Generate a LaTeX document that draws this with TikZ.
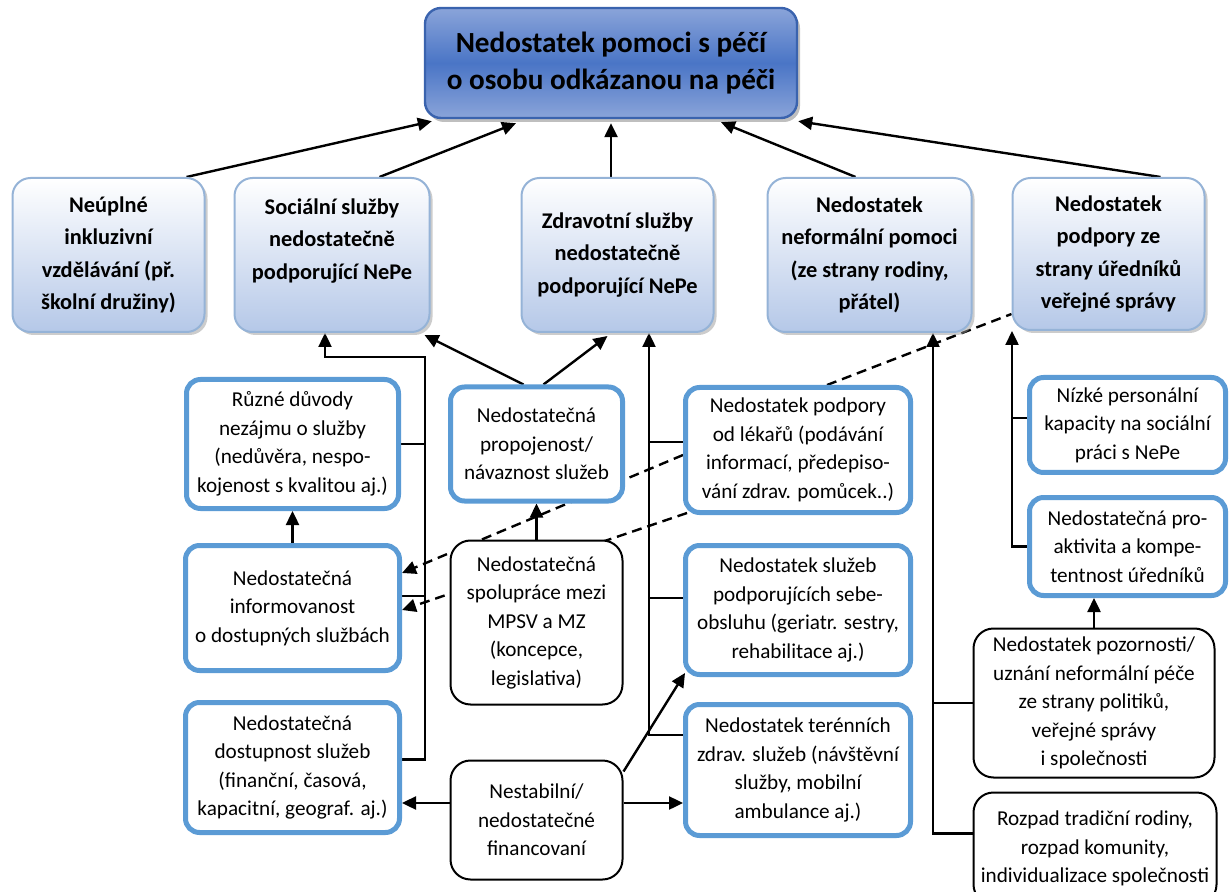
\documentclass[tikz,border=0pt]{standalone}
\usepackage{fontspec}
\setmainfont{Carlito}
\usetikzlibrary{calc, positioning, arrows.meta, shadows, backgrounds}

\definecolor{mainline}{HTML}{3A63AE}
\definecolor{mainedge}{HTML}{8AA4D9}
\definecolor{mainmid}{HTML}{4A75C6}
\definecolor{causeline}{HTML}{95B3D7}
\definecolor{causebot}{HTML}{B5C8E8}
\definecolor{boxblue}{HTML}{5B9BD5}

\newcommand\txttop{\fontsize{14.6}{18.5}\selectfont\bfseries}
\newcommand\txtcause{\fontsize{11.2}{16.25}\selectfont\bfseries}
\newcommand\txtbody{\fontsize{10.6}{14.25}\selectfont}

\tikzset{
    main/.style={rectangle, rounded corners=8pt, draw=mainline, line width=1.2pt,
        top color=mainedge, bottom color=mainedge, middle color=mainmid,
        drop shadow={shadow xshift=1.5pt, shadow yshift=-2pt, fill=black!50},
        align=center, font=\txttop, inner sep=1pt},
    cause/.style={rectangle, rounded corners=9pt, draw=causeline, line width=1pt,
        top color=white, bottom color=causebot,
        drop shadow={shadow xshift=1.5pt, shadow yshift=-1.5pt, fill=black!40},
        align=center, font=\txtcause, inner sep=1pt,
        minimum height=77pt},
    bluebox/.style={rectangle, rounded corners=7pt, draw=boxblue, line width=2.5pt,
        fill=white, align=center, font=\txtbody, inner sep=1pt},
    blackbox/.style={rectangle, rounded corners=10pt, draw, line width=1pt,
        fill=white, align=center, font=\txtbody, inner sep=1pt},
    link/.style={line width=1.1pt},
    arrow/.style={->, line width=1.2pt},
    dashline/.style={line width=1.2pt, dash pattern=on 5pt off 3pt},
    >={Triangle[length=7pt, width=6.5pt]}
}

\begin{document}
\begin{tikzpicture}[x=0.5pt, y=-0.5pt]
    \useasboundingbox (0,0) rectangle (1230,892);

    % main problem
    \node[main, minimum width=186pt, minimum height=55pt] (Top) at (611,63)
        {Nedostatek pomoci s péčí\\o osobu odkázanou na péči};

    % direct causes
    \node[cause, minimum width=96pt] (B1) at (108.5,255)
        {Neúplné\\inkluzivní\\vzdělávání (př.\\školní družiny)};
    \node[cause, minimum width=97.5pt] (B2) at (332,255)
        {Sociální služby\\nedostatečně\\podporující NePe\\\mbox{}};
    \node[cause, minimum width=96pt] (B3) at (617.5,255)
        {Zdravotní služby\\nedostatečně\\podporující NePe};
    \node[cause, minimum width=102pt] (B4) at (869.5,255)
        {Nedostatek\\neformální pomoci\\(ze strany rodiny,\\přátel)};
    \node[cause, minimum width=96pt, minimum height=76pt] (B5) at (1108.5,254)
        {Nedostatek\\podpory ze\\strany úředníků\\veřejné správy};

    % deeper causes
    \node[bluebox, minimum width=106pt, minimum height=64.5pt] (R1) at (292.5,444)
        {Různé důvody\\nezájmu o služby\\(nedůvěra, nespo-\\kojenost s kvalitou aj.)};
    \node[bluebox, minimum width=86pt, minimum height=57pt] (P) at (536.5,444)
        {Nedostatečná\\propojenost/\\návaznost služeb};
    \node[bluebox, minimum width=112.5pt, minimum height=62.5pt] (L) at (798,450)
        {Nedostatek podpory\\od lékařů (podávání\\informací, předepiso-\\vání zdrav. pomůcek..)};
    \node[bluebox, minimum width=98pt, minimum height=47.5pt] (N1) at (1127.5,425)
        {Nízké personální\\kapacity na sociální\\práci s NePe};
    \node[bluebox, minimum width=98pt, minimum height=49pt] (N2) at (1127.5,546.5)
        {Nedostatečná pro-\\aktivita a kompe-\\tentnost úředníků};

    \node[bluebox, minimum width=107pt, minimum height=62.5pt] (I) at (292.5,608)
        {Nedostatečná\\informovanost\\o dostupných službách};
    \node[blackbox, minimum width=86pt, minimum height=82pt] (S) at (536.5,622.5)
        {Nedostatečná\\spolupráce mezi\\MPSV a MZ\\(koncepce,\\legislativa)};
    \node[bluebox, minimum width=112.5pt, minimum height=64.5pt] (SB) at (798,610)
        {Nedostatek služeb\\podporujících sebe-\\obsluhu (geriatr. sestry,\\rehabilitace aj.)};
    \node[blackbox, minimum width=120.5pt, minimum height=74.5pt] (PZ) at (1094,703)
        {Nedostatek pozornosti/\\uznání neformální péče\\ze strany politiků,\\veřejné správy\\i společnosti};

    \node[bluebox, minimum width=107pt, minimum height=65pt] (D) at (292.5,767.5)
        {Nedostatečná\\dostupnost služeb\\(finanční, časová,\\kapacitní, geograf. aj.)};
    \node[blackbox, minimum width=86pt, minimum height=59.5pt] (NF) at (536.5,820)
        {Nestabilní/\\nedostatečné\\financovaní};
    \node[bluebox, minimum width=112.5pt, minimum height=65.5pt] (T) at (798,770)
        {Nedostatek terénních\\zdrav. služeb (návštěvní\\služby, mobilní\\ambulance aj.)};
    \node[blackbox, minimum width=121.5pt, minimum height=56pt] (RR) at (1095,848.5)
        {Rozpad tradiční rodiny,\\rozpad komunity,\\individualizace společnosti};

    \begin{scope}[on background layer]
        % into the main problem
        \draw[arrow] ($(B1.north east)+(-19,0)$) -- ($(Top.south west)+(8,2)$);
        \draw[arrow] ($(B2.north east)+(-51,0)$) -- ($(Top.south)+(-95,4)$);
        \draw[arrow] (B3.north -| Top.south) -- ($(Top.south)+(0,4)$);
        \draw[arrow] ($(B4.north)+(-14,0)$) -- ($(Top.south)+(110,3)$);
        \draw[arrow] ($(B5.north)+(52,0)$) -- ($(Top.south east)+(0,2)$);

        % social services
        \coordinate (busS) at (425,357);
        \draw[arrow] ($(D.east)+(0,-8)$) -| (busS) -| ($(B2.south)+(-7,0)$);
        \draw[link] (R1.east) -- (R1.east -| busS);
        \draw[link] ($(I.east)+(0,-12)$) coordinate (iS) -- (iS -| busS);
        \draw[arrow] (I) -- (R1);
        \draw[arrow] ($(P.north)+(-13,0)$) -- ($(B2.south east)+(-6,2)$);
        \draw[arrow] ($(P.north)+(7,0)$) -- ($(B3.south)+(-10,3)$);
        \draw[arrow] (S) -- (P);

        % health services
        \coordinate (busZ) at (649,0);
        \draw[arrow] ($(T.west)+(0,-35)$) -| (busZ |- B3.south);
        \draw[link] ($(L.west)+(0,-8)$) coordinate (lZ) -- (lZ -| busZ);
        \draw[link] ($(SB.west)+(0,-12)$) coordinate (sZ) -- (sZ -| busZ);

        % informal help
        \coordinate (busN) at (933,0);
        \draw[arrow] ($(RR.west)+(0,-15)$) -| (busN |- B4.south);
        \draw[link] (PZ.west) -- (PZ.west -| busN);

        % public administration
        \coordinate (busU) at (1012,0);
        \draw[arrow] (N2.west) -| (busU |- B5.south);
        \draw[link] ($(N1.west)+(0,-7)$) coordinate (nU) -- (nU -| busU);
        \draw[arrow] (PZ.north) -- (PZ.north |- N2.south);

        % doctors
        \draw[dashline] ($(L.north)+(29,0)$) -- ($(B5.south west)+(0,-17)$);
        \draw[dashline, ->] ($(L.west)+(0,5)$) -- ($(I.east)+(0,-35)$);
        \draw[dashline, ->] ($(L.south west)+(4,-2)$) -- ($(I.east)+(0,2)$);

        % financing
        \draw[arrow] ($(NF.west)+(0,-17)$) coordinate (fW) -- (fW -| D.east);
        \draw[arrow] ($(NF.east)+(0,-17)$) coordinate (fE) -- (fE -| T.west);
        \draw[arrow] ($(NF.north east)+(0,12)$) -- ($(SB.south west)+(2,-4)$);
    \end{scope}
\end{tikzpicture}
\end{document}
